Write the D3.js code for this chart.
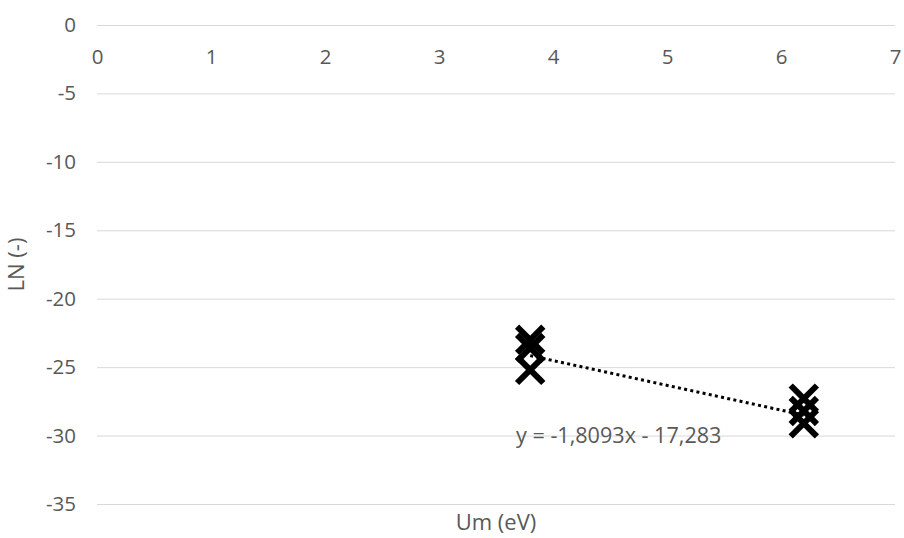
<!DOCTYPE html>
<html><head><meta charset="utf-8">
<script src="https://cdn.jsdelivr.net/npm/d3@7"></script>
<style>
body{margin:0;background:#fff;}
text{font-family:"Open Sans","Segoe UI",sans-serif;fill:#595959;}
</style></head>
<body><svg id="c" width="904" height="538"></svg>
<script>
const umValues = [3.8, 3.8, 3.8, 6.2, 6.2, 6.2];
const lnValues = [-23.0, -23.6, -25.2, -27.3, -28.2, -29.1];
const xTicks = [0, 1, 2, 3, 4, 5, 6, 7];
const yTicks = [0, -5, -10, -15, -20, -25, -30, -35];
const trendSlope = -1.8093;
const trendIntercept = -17.283;
const trendLabel = "y = -1,8093x - 17,283";
const xTitle = "Um (eV)";
const yTitle = "LN (-)";

(function () {
const svg = d3.select("#c");
const mL = 97, mR = 895, mT = 25, mB = 504;
const x = d3.scaleLinear().domain([0, 7]).range([mL, mR]);
const y = d3.scaleLinear().domain([0, -35]).range([mT, mB]);
const fs = 20.5;
const fmt = d => String(d);

// gridlines
svg.append("g").selectAll("line").data(yTicks).join("line")
  .attr("x1", mL).attr("x2", mR)
  .attr("y1", d => y(d) + 0.5).attr("y2", d => y(d) + 0.5)
  .attr("stroke", "#d9d9d9").attr("stroke-width", 1);

// y axis labels
const yAxis = d3.axisLeft(y).tickValues(yTicks).tickSize(0).tickPadding(21).tickFormat(fmt);
const ya = svg.append("g").attr("transform", `translate(${mL},0)`).call(yAxis);
ya.select(".domain").remove();
ya.selectAll("text").style("font-size", fs + "px").attr("fill", "#595959")
  .style("font-family", "'Open Sans',sans-serif");

// x axis labels (axis crosses at 0)
const xAxis = d3.axisBottom(x).tickValues(xTicks).tickSize(0).tickPadding(0).tickFormat(fmt);
const xa = svg.append("g").attr("transform", `translate(0,${y(0)})`).call(xAxis);
xa.select(".domain").remove();
xa.selectAll("text").style("font-size", fs + "px").attr("fill", "#595959")
  .style("font-family", "'Open Sans',sans-serif").attr("y", 32).attr("dy", "0.35em");

// trendline
const tx0 = d3.min(umValues), tx1 = d3.max(umValues);
svg.append("line")
  .attr("x1", x(tx0)).attr("y1", y(trendSlope * tx0 + trendIntercept))
  .attr("x2", x(tx1)).attr("y2", y(trendSlope * tx1 + trendIntercept))
  .attr("stroke", "#000").attr("stroke-width", 3)
  .attr("stroke-dasharray", "3,3.3");

// markers
const s = 11;
const mg = svg.append("g");
umValues.forEach((u, i) => {
  const cx = x(u), cy = y(lnValues[i]);
  mg.append("path")
    .attr("d", `M${cx - s},${cy - s}L${cx + s},${cy + s}M${cx - s},${cy + s}L${cx + s},${cy - s}`)
    .attr("stroke", "#000").attr("stroke-width", 6).attr("stroke-linecap", "square").attr("fill", "none");
});

// equation label
svg.append("text").attr("x", 516).attr("y", y(-30.55))
  .style("font-size", "21.6px").text(trendLabel);

// axis titles
svg.append("text").attr("x", (mL + mR) / 2).attr("y", 530)
  .attr("text-anchor", "middle").style("font-size", "22px").text(xTitle);
svg.append("text").attr("transform", `translate(24,${(mT + mB) / 2}) rotate(-90)`)
  .attr("text-anchor", "middle").style("font-size", "22px").text(yTitle);
})();
</script></body></html>
